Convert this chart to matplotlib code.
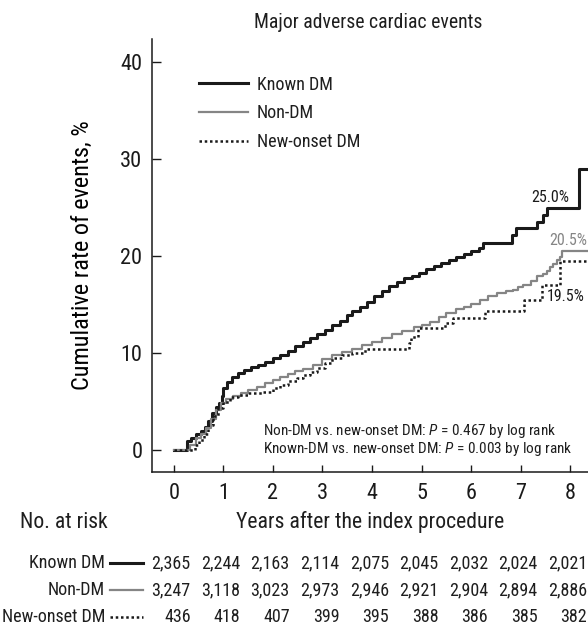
import matplotlib
matplotlib.use("Agg")
import matplotlib.pyplot as plt
import matplotlib.transforms as mtrans
from matplotlib.lines import Line2D
from matplotlib import font_manager as fm

# Kaplan-Meier style cumulative event curves (years, %)
known_t = [0, 0.26, 0.35, 0.45, 0.55, 0.62, 0.70, 0.78, 0.85, 0.92, 0.97, 1.00, 1.08,
           1.18, 1.30, 1.42, 1.55, 1.70, 1.85, 2.00, 2.15, 2.30, 2.45, 2.60, 2.75, 2.90,
           3.05, 3.20, 3.35, 3.50, 3.60, 3.75, 3.90, 4.05, 4.20, 4.35, 4.50, 4.65, 4.80,
           4.95, 5.10, 5.25, 5.40, 5.55, 5.70, 5.85, 6.00, 6.15, 6.25, 6.82, 6.90, 7.33,
           7.46, 7.53, 8.18, 8.34]
known_v = [0, 0.9, 1.2, 1.6, 2.0, 2.4, 3.0, 3.8, 4.4, 4.8, 5.6, 6.4, 7.0,
           7.5, 7.9, 8.3, 8.6, 8.8, 9.1, 9.5, 9.8, 10.2, 10.7, 11.1, 11.6, 12.0,
           12.4, 12.9, 13.3, 13.9, 14.3, 14.8, 15.3, 15.9, 16.4, 16.9, 17.3, 17.7, 18.0,
           18.3, 18.7, 19.0, 19.3, 19.6, 19.9, 20.2, 20.5, 20.8, 21.4, 22.2, 22.9, 23.5,
           24.2, 25.0, 29.0, 29.0]

nondm_t = [0, 0.33, 0.45, 0.55, 0.65, 0.75, 0.85, 0.95, 1.05, 1.20, 1.35, 1.50, 1.67,
           1.85, 2.00, 2.15, 2.30, 2.45, 2.60, 2.80, 3.00, 3.20, 3.40, 3.60, 3.80, 4.00,
           4.20, 4.40, 4.60, 4.84, 5.00, 5.17, 5.35, 5.50, 5.70, 5.85, 6.00, 6.18, 6.35,
           6.52, 6.70, 6.85, 6.95, 7.05, 7.20, 7.33, 7.45, 7.53, 7.60, 7.66, 7.73, 7.80,
           7.84, 8.34]
nondm_v = [0, 0.5, 1.2, 1.7, 2.3, 3.2, 4.1, 4.8, 5.3, 5.6, 5.9, 6.2, 6.5,
           6.9, 7.2, 7.5, 7.8, 8.1, 8.4, 8.8, 9.4, 9.8, 10.1, 10.4, 10.8, 11.1,
           11.6, 12.0, 12.3, 12.7, 12.9, 13.2, 13.7, 14.1, 14.5, 14.8, 15.1, 15.5, 15.9,
           16.2, 16.4, 16.5, 16.8, 17.0, 17.4, 17.9, 18.2, 18.5, 18.9, 19.2, 19.6, 19.9,
           20.5, 20.5]

newdm_t = [0, 0.42, 0.50, 0.60, 0.70, 0.80, 0.90, 1.00, 1.13, 1.30, 1.50, 1.80, 2.00,
           2.14, 2.30, 2.48, 2.60, 2.75, 2.90, 3.05, 3.20, 3.40, 3.60, 3.85, 4.75, 4.78,
           4.92, 5.47, 5.64, 6.28, 7.07, 7.43, 7.80, 8.34]
newdm_v = [0, 0.5, 1.0, 1.6, 2.6, 3.5, 4.3, 4.9, 5.5, 5.7, 5.9, 6.0, 6.4,
           6.7, 7.1, 7.4, 7.7, 8.0, 8.5, 9.0, 9.5, 9.8, 10.0, 10.4, 11.0, 11.7,
           12.6, 13.1, 13.6, 14.3, 15.5, 17.0, 19.5, 19.5]

years = [0, 1, 2, 3, 4, 5, 6, 7, 8]
risk_known = ["2,365", "2,244", "2,163", "2,114", "2,075", "2,045", "2,032", "2,024", "2,021"]
risk_nondm = ["3,247", "3,118", "3,023", "2,973", "2,946", "2,921", "2,904", "2,894", "2,886"]
risk_newdm = ["436", "418", "407", "399", "395", "388", "386", "385", "382"]

GRAY = "#858585"
W, H = 588, 629

installed = {f.name for f in fm.fontManager.ttflist}
narrow = [n for n in ["Roboto Condensed", "Archivo Narrow", "PT Sans Narrow"] if n in installed]
FONT = narrow[0] if narrow else "Liberation Sans"

plt.rcParams["font.family"] = [FONT, "DejaVu Sans"]
plt.rcParams["mathtext.fontset"] = "custom"
plt.rcParams["mathtext.it"] = FONT + ":italic"
plt.rcParams["mathtext.rm"] = FONT
plt.rcParams["text.color"] = "#1e1e1e"

fig = plt.figure(figsize=(W / 100, H / 100), dpi=100)
ax = fig.add_axes([152 / W, 1 - 472 / H, (W - 152) / W, (472 - 39) / H])

styles = {
    "known": dict(color="#1a1a1a", lw=2.2),
    "nondm": dict(color=GRAY, lw=1.6),
    "newdm": dict(color="#1a1a1a", lw=1.8, linestyle=(0, (1, 1.1))),
}

ax.plot(known_t, known_v, drawstyle="steps-post", label="Known DM", **styles["known"])
ax.plot(nondm_t, nondm_v, drawstyle="steps-post", label="Non-DM", **styles["nondm"])
ax.plot(newdm_t, newdm_v, drawstyle="steps-post", label="New-onset DM", **styles["newdm"])

ax.set_xlim(-0.44, 8.36)
ax.set_ylim(-2.27, 42.4)
ax.set_xticks(years)
ax.set_yticks([0, 10, 20, 30, 40])
for s in ("top", "right"):
    ax.spines[s].set_visible(False)
for s in ("left", "bottom"):
    ax.spines[s].set_linewidth(1.1)
    ax.spines[s].set_color("#1a1a1a")
ax.tick_params(axis="y", direction="in", length=6.5, width=1.0, pad=7, labelsize=16,
               colors="#1a1a1a")
ax.tick_params(axis="x", direction="in", length=5, width=1.0, pad=8, labelsize=16,
               colors="#1a1a1a")
ax.set_ylabel("Cumulative rate of events, %", fontsize=17.5)
ax.yaxis.set_label_coords((94 - 152) / (W - 152), 0.5)

leg = ax.legend(loc="upper left", bbox_to_anchor=(0.07, 0.953), frameon=False,
                fontsize=13, handlelength=2.7, handletextpad=0.5, labelspacing=0.6)

ax.text(7.98, 26.1, "25.0%", ha="right", va="center", fontsize=11.5, color="#1a1a1a")
ax.text(8.34, 21.6, "20.5%", ha="right", va="center", fontsize=11.5, color=GRAY)
ax.text(7.52, 15.8, "19.5%", ha="left", va="center", fontsize=11.5, color="#1a1a1a")

ax.text(1.8, 2.0, "Non-DM vs. new-onset DM: $P$ = 0.467 by log rank",
        ha="left", va="center", fontsize=11)
ax.text(1.8, 0.1, "Known-DM vs. new-onset DM: $P$ = 0.003 by log rank",
        ha="left", va="center", fontsize=11)

fig.text(368 / W, 1 - 22 / H, "Major adverse cardiac events", ha="center", va="center",
         fontsize=14.2)
fig.text(370 / W, 1 - 522 / H, "Years after the index procedure", ha="center",
         va="center", fontsize=15.7)
fig.text(20 / W, 1 - 523 / H, "No. at risk", ha="left", va="center", fontsize=15.6)

# number-at-risk table, counts right-aligned just past each year tick
blend = mtrans.blended_transform_factory(ax.transData, fig.transFigure)
rows = [("Known DM", risk_known, "known", 563),
        ("Non-DM", risk_nondm, "nondm", 590),
        ("New-onset DM", risk_newdm, "newdm", 617)]
for name, counts, key, py in rows:
    yf = 1 - py / H
    fig.text(105 / W, yf, name, ha="right", va="center", fontsize=13)
    fig.add_artist(Line2D([110 / W, 143 / W], [yf, yf], transform=fig.transFigure,
                          **styles[key]))
    for x, c in zip(years, counts):
        ax.text(x + 0.34, yf, c, transform=blend, ha="right", va="center", fontsize=13,
                clip_on=False)

fig.savefig("out.png", dpi=100)
